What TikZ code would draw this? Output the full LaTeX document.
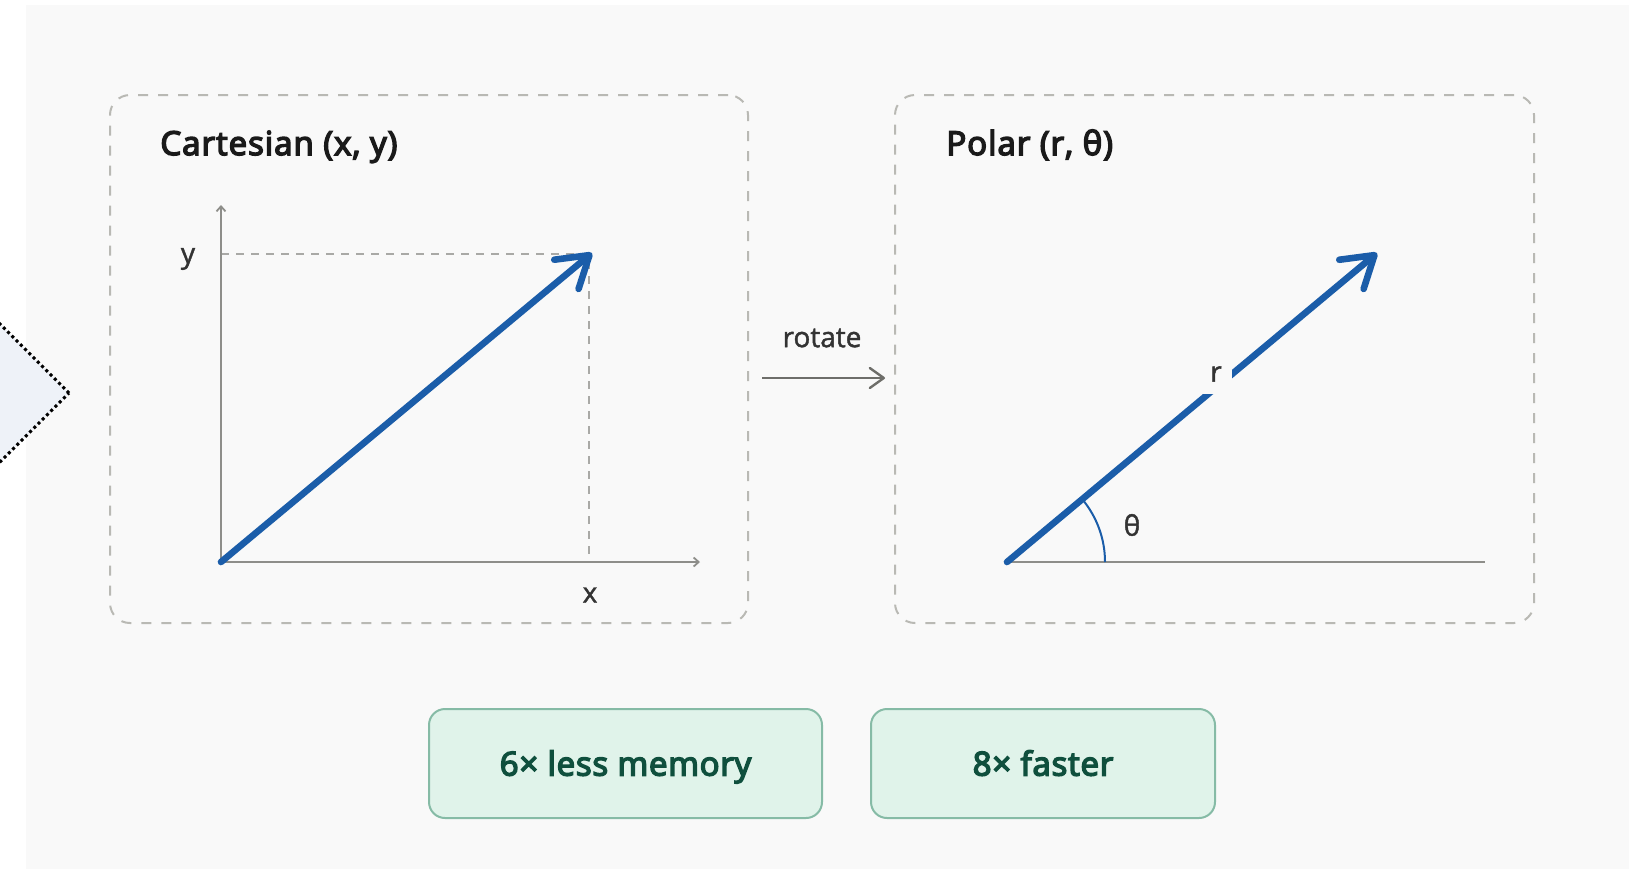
\documentclass[tikz,border=0pt]{standalone}
\usepackage{fontspec}
\setmainfont{Open Sans}
\newfontfamily\headfont[FakeBold=4.5, LetterSpace=3]{Open Sans}
\newfontfamily\pillfont[FakeBold=4.5, LetterSpace=2.3]{Open Sans}
\newfontfamily\labelfont[FakeBold=1.5]{Open Sans}
\usetikzlibrary{arrows.meta}
\definecolor{pagebg}{HTML}{FFFFFF}
\definecolor{panelbg}{HTML}{F9F9F9}
\definecolor{frame}{HTML}{B9B9B4}
\definecolor{axis}{HTML}{8E8E8A}
\definecolor{guide}{HTML}{A9A9A6}
\definecolor{vec}{HTML}{1B5DA9}
\definecolor{ink}{HTML}{1A1A1A}
\definecolor{labelink}{HTML}{333333}
\definecolor{arrowgray}{HTML}{6E6E6A}
\definecolor{pillfill}{HTML}{E0F3EA}
\definecolor{pillline}{HTML}{86BBA6}
\definecolor{pillink}{HTML}{0F4F3D}
\definecolor{tagfill}{HTML}{EEF2F8}
\tikzset{
  panel/.style={draw=frame, line width=1pt, dash pattern=on 5pt off 5pt,
    rounded corners=10pt, inner sep=0pt},
  paneltitle/.style={anchor=base west, text=ink, font=\headfont\fontsize{16.5}{18}\selectfont, inner sep=0pt},
  axisline/.style={draw=axis, line width=0.9pt, -{Straight Barb[length=2.5pt,width=4.5pt]}},
  baseline/.style={draw=axis, line width=0.9pt},
  guideline/.style={draw=guide, line width=0.75pt, dash pattern=on 4pt off 3.5pt},
  vector/.style={draw=vec, line width=3.3pt, line cap=round,
    -{Straight Barb[length=15pt,width=19pt,round]}},
  axislabel/.style={text=labelink, font=\labelfont\fontsize{14}{16}\selectfont, inner sep=0pt},
  pill/.style={draw=pillline, fill=pillfill, line width=1pt, rounded corners=8pt,
    minimum height=54.5pt, inner sep=0pt, text=pillink,
    text height=12pt, text depth=0pt,
    font=\pillfont\fontsize{16.5}{18}\selectfont},
}
\begin{document}
\begin{tikzpicture}[x=0.5pt,y=-0.5pt]
\useasboundingbox (0,0) rectangle (1648,869);
\clip (0,0) rectangle (1648,869);
\fill[pagebg] (0,0) rectangle (1648,869);
\fill[panelbg] (26,5) rectangle (1629,869);

% framed panels
\node[panel, minimum width=319pt, minimum height=264pt] (cart) at (429,359) {};
\node[panel, minimum width=319.5pt, minimum height=264pt] (polar) at (1214.5,359) {};
\node[paneltitle] (carttitle) at (160,155) {Cartesian (x, y)};
\node[paneltitle] (polartitle) at (946,155) {Polar (r, θ)};

% Cartesian plot
\coordinate (O1) at (221,562);
\coordinate (Yend) at (221,205);
\coordinate (Xend) at (700,562);
\coordinate (P1) at (592,253);
\coordinate (Py) at (221,254);
\coordinate (Px) at (589,562);
\coordinate (Pc) at (589,254);
\draw[guideline] (Py) -- (Pc) -- (Px);
\draw[axisline] (O1) -- (Yend);
\draw[axisline] (O1) -- (Xend);
\draw[vector] (O1) -- (P1);
\node[axislabel] (ylab) at (188,259) {y};
\node[axislabel] (xlab) at (590,595) {x};

% rotate arrow
\coordinate (ra) at (762,378);
\coordinate (rb) at (885,378);
\draw[draw=arrowgray, line width=1.2pt, -{Straight Barb[length=7pt,width=10pt,round]}] (ra) -- (rb);
\node[axislabel] (rotlab) at (822,338) {rotate};

% polar plot
\coordinate (O2) at (1007,562);
\coordinate (Hend) at (1485,562);
\coordinate (P2) at (1377,253);
\draw[baseline] (O2) -- (Hend);
\draw[vector] (O2) -- (P2);
\draw[draw=vec, line width=1pt] (1105,562) arc[start angle=0, end angle=-39.8, radius=98];
\node[axislabel, fill=panelbg, minimum width=16pt, minimum height=20pt] (rlab) at (1216,374) {r};
\node[axislabel] (thlab) at (1132,525) {θ};

% result pills
\node[pill, minimum width=196.5pt] (mem) at (625.5,763.5) {6× less memory};
\node[pill, minimum width=172pt] (fast) at (1043,763.5) {8× faster};

% dotted tag entering from the left edge
\draw[fill=tagfill, draw=black, line width=1.5pt, dash pattern=on 1.5pt off 1.5pt]
  (69,393) -- (-100,224) -- (-269,393) -- (-100,562) -- cycle;
\end{tikzpicture}
\end{document}
